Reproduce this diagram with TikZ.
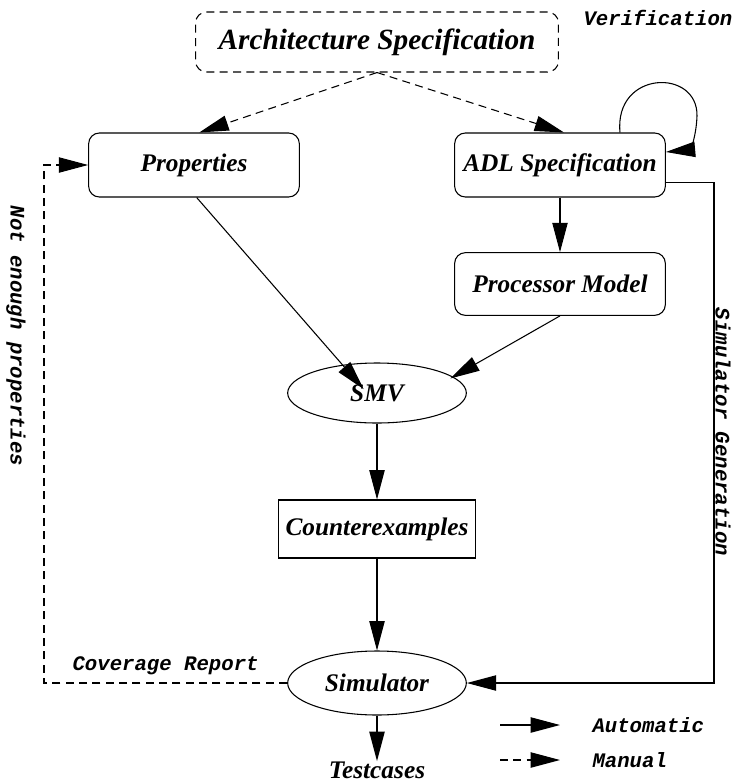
\documentclass[tikz,border=0pt]{standalone}
\usepackage{fontspec}
\setmainfont{Liberation Serif}
\setmonofont{Liberation Mono}
\usetikzlibrary{arrows.meta,shapes.geometric,calc}

\begin{document}
\begin{tikzpicture}[x=0.75pt,y=-0.75pt,line width=0.8pt,
    every node/.style={inner sep=0pt,font=\fontsize{19}{22}\selectfont\bfseries\itshape},
    block/.style={draw,rounded corners=8pt,minimum width=158pt,minimum height=48pt},
    oval/.style={draw,ellipse,minimum width=134pt,minimum height=46pt},
    note/.style={font=\fontsize{15.5}{18}\selectfont\ttfamily\bfseries\itshape},
    auto/.style={-{Triangle[length=22pt,width=11.5pt]}},
    manual/.style={auto,dash pattern=on 6pt off 4pt}]
    \useasboundingbox (0,0) rectangle (738,783);
    % Tool flow: specification, model checking, simulation
    \node[block,manual,-,minimum width=272pt,minimum height=45pt,font=\fontsize{22}{25}\selectfont\bfseries\itshape] (arch) at (377,42) {Architecture Specification};
    \node[block] (prop) at (194,165) {Properties};
    \node[block] (adl) at (560,165) {ADL Specification};
    \node[block,minimum height=47pt] (proc) at (560,284) {Processor Model};
    \node[oval,minimum height=45pt] (smv) at (377,393) {SMV};
    \node[draw,minimum width=148pt,minimum height=43.5pt] (cex) at (377,529) {Counterexamples};
    \node[oval,minimum height=48pt] (sim) at (377,683) {Simulator};
    \node (test) at (377,770) {Testcases};
    \coordinate (loopin) at ($(adl.north east)!0.3!(adl.south east)$);
    % manual steps
    \draw[manual] (arch.south) -- ([xshift=4pt]prop.north);
    \draw[manual] (arch.south) -- ([xshift=3pt]adl.north);
    \draw[manual] (sim.west) -| (44,165) node[note,pos=0.25,above=6pt] {Coverage Report} -- (prop.west);
    % automatic steps
    \draw[auto] (adl.north) ++(45pt,0) .. controls (614,70) and (698,68) .. (697,116)
        .. controls (696,142) and (688,150) .. (loopin);
    \draw[auto] (adl) -- (proc);
    \draw[auto] ([xshift=2pt]prop.south) -- ([shift={(-10pt,-20pt)}]smv.north);
    \draw[auto] (proc.south) -- ([shift={(55pt,-12pt)}]smv.north);
    \draw[auto] (smv) -- (cex);
    \draw[auto] (cex) -- (sim);
    \draw[auto] (sim) -- (test.north);
    \draw[auto] ([yshift=-13pt]adl.east) -| (714,683) -- (sim.east);
    \node[note] (verif) at (658,18) {Verification};
    \node[note,rotate=-90] (simgen) at (723,432) {Simulator Generation};
    \node[note,rotate=-90] (notenough) at (16,336) {Not enough properties};
    % legend
    \coordinate (la) at (500,725);
    \coordinate (lb) at (500,760);
    \draw[auto] (la) -- ++(60,0) node[note,right=24pt,anchor=west] (lauto) {Automatic};
    \draw[manual] (lb) -- ++(60,0) node[note,right=24pt,anchor=west] (lman) {Manual};
\end{tikzpicture}
\end{document}
